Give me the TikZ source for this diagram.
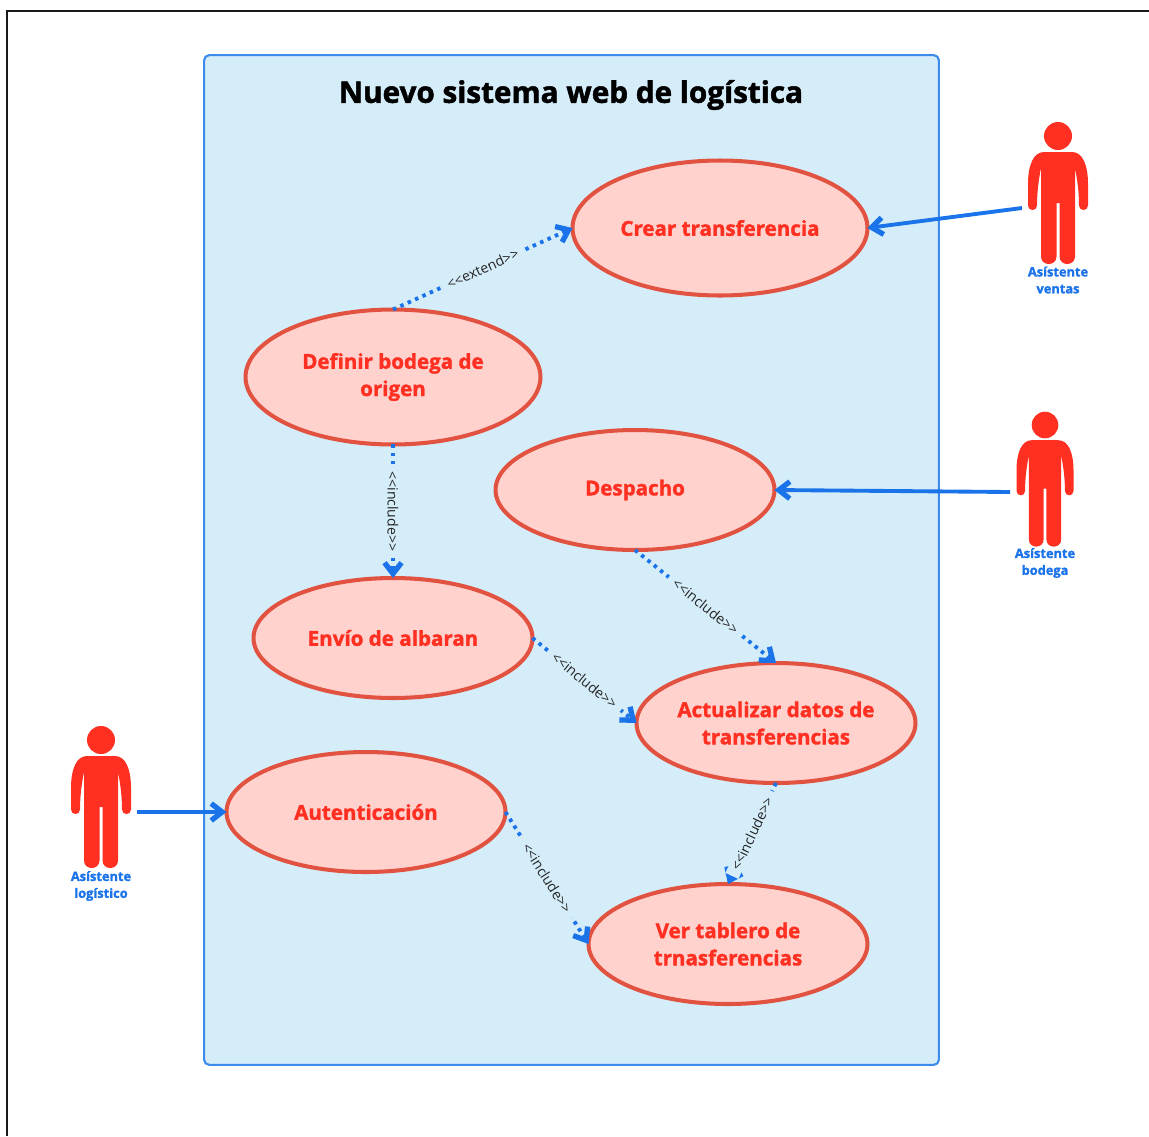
\documentclass[tikz,border=0pt]{standalone}
\usepackage{fontspec}
\setmainfont{Open Sans}
\newfontfamily\heavyfont{Open Sans}[BoldFeatures={FakeBold=1.6}]
\newfontfamily\linkfont{Open Sans}
\usetikzlibrary{shapes.geometric,arrows.meta}

\definecolor{panelfill}{HTML}{D5EDF9}
\definecolor{panelline}{HTML}{3B8BEA}
\definecolor{linkblue}{HTML}{1A73E8}
\definecolor{caseline}{HTML}{E25241}
\definecolor{casefill}{HTML}{FFD2CE}
\definecolor{actorred}{HTML}{FF3021}

\tikzset{
	usecase/.style={ellipse,draw=caseline,fill=casefill,line width=2.3pt,outer sep=0pt,inner sep=0pt,
		minimum width=5.58cm,minimum height=2.40cm,text=actorred,align=center,
		font=\fontsize{11.7}{15.5}\heavyfont\bfseries},
	usecasebig/.style={usecase,minimum width=5.9cm,minimum height=2.7cm},
	actorlabel/.style={text=linkblue,align=center,font=\fontsize{7.3}{9.6}\heavyfont\bfseries},
	uses/.style={-{Straight Barb[length=2.2mm,width=3.4mm,line width=3pt]},line width=2.2pt,linkblue},
	includes/.style={uses,dash pattern=on 2pt off 2.6pt},
	linklabel/.style={midway,sloped,fill=panelfill,inner xsep=4pt,inner ysep=1pt,text=black!85,
		font=\fontsize{8}{9}\linkfont},
	actorfig/.pic={
		\fill[actorred] (0,0) circle[radius=14];
		\fill[actorred] (-14,16) .. controls (-25,16) and (-30,30) .. (-30,48)
			-- (-30,69.5) .. controls (-30,75.5) and (-21,75.5) .. (-21,69.5)
			.. controls (-21,55) and (-19,42) .. (-17,32)
			-- (-17,120.5) .. controls (-17,130.5) and (-1.5,130.5) .. (-1.5,120.5)
			-- (-1.5,67) -- (1.5,67)
			-- (1.5,120.5) .. controls (1.5,130.5) and (17,130.5) .. (17,120.5)
			-- (17,32) .. controls (19,42) and (21,55) .. (21,69.5)
			.. controls (21,75.5) and (30,75.5) .. (30,69.5)
			-- (30,48) .. controls (30,30) and (25,16) .. (14,16) -- cycle;
	}
}

\begin{document}
\begin{tikzpicture}[x=0.02cm,y=-0.02cm]

\useasboundingbox (0,0) rectangle (1149,1136);

\coordinate (frameA) at (7,1136);
\coordinate (frameB) at (7,11);
\coordinate (frameC) at (1149,11);
\draw[line width=0.9pt,black!90] (frameA)--(frameB)--(frameC);

\node[draw=panelline,fill=panelfill,line width=1.2pt,rounded corners=3pt,minimum width=14.7cm,minimum height=20.2cm,inner sep=0pt] (panel) at (571.5,560) {};
\node[font=\heavyfont] (title) at (571,95) {\fontsize{16.9}{20}\selectfont\bfseries Nuevo sistema web de logística};

\node[usecasebig] (crear) at (720,228) {Crear transferencia};
\node[usecasebig] (definir) at (393,377) {Definir bodega de\\origen};
\node[usecase] (despacho) at (635,490) {Despacho};
\node[usecase] (envio) at (393,638) {Envío de albaran};
\node[usecase] (actualizar) at (776,723) {Actualizar datos de\\transferencias};
\node[usecase] (autenticacion) at (366,812) {Autenticación};
\node[usecase] (tablero) at (728,944) {Ver tablero de\\trnasferencias};

\pic at (1058,136) {actorfig};
\pic[scale=0.95] at (1045,425) {actorfig};
\pic at (101,740) {actorfig};

\node[actorlabel] (ventas) at (1058,280) {Asístente\\ventas};
\node[actorlabel] (bodega) at (1045,563) {Asístente\\bodega};
\node[actorlabel] (logistico) at (101,886) {Asístente\\logístico};

\coordinate (fromVentas) at (1022,208);
\coordinate (fromBodega) at (1010,492);
\coordinate (fromLogistico) at (137,812);

\draw[uses] (fromVentas)--(crear.east);
\draw[uses] (fromBodega)--(despacho.east);
\draw[uses] (fromLogistico)--(autenticacion.west);

\draw[includes] (definir.north)--(crear.west) node[linklabel] {<<extend>>};
\draw[includes] (definir.south)--(envio.north) node[linklabel] {<<include>>};
\draw[includes] (despacho.south)--(actualizar.north) node[linklabel] {<<include>>};
\draw[includes] (envio.east)--(actualizar.west) node[linklabel] {<<include>>};
\draw[includes] (autenticacion.east)--(tablero.west) node[linklabel] {<<include>>};
\draw[includes] (actualizar.south)--(tablero.north) node[linklabel] {<<include>>};

\end{tikzpicture}
\end{document}
